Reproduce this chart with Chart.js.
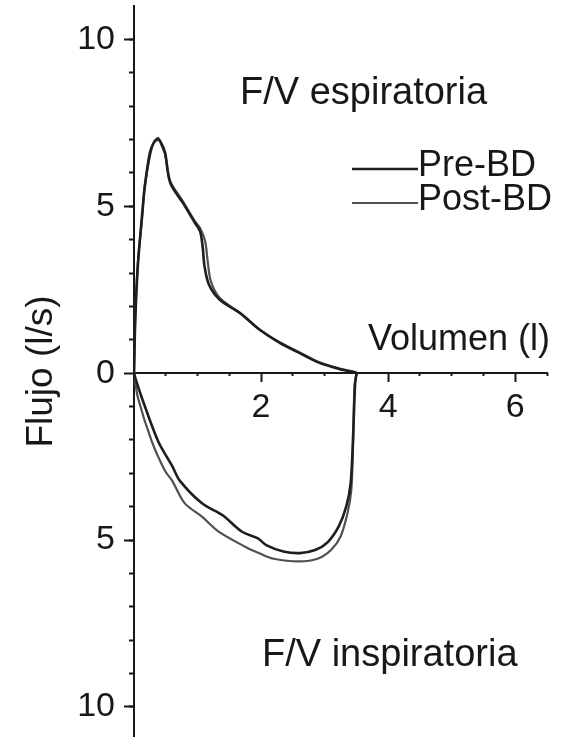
<!DOCTYPE html>
<html>
<head>
<meta charset="utf-8">
<script src="https://cdn.jsdelivr.net/npm/chart.js@4/dist/chart.umd.min.js"></script>
<style>
html,body{margin:0;padding:0;background:#fff;}
#wrap{width:570px;height:737px;position:relative;}
</style>
</head>
<body>
<div id="wrap"><canvas id="c"></canvas></div>
<script>
// ---- data ----
const seriesNames = ['Pre-BD', 'Post-BD'];

// Pre-BD loop: expiration (0 -> FVC) then inspiration (FVC -> 0), flow negative
const preVolume = [0, 0.02, 0.06, 0.13, 0.17, 0.25, 0.31, 0.38, 0.44, 0.49, 0.57, 0.77, 0.96, 1.04, 1.08, 1.11, 1.18, 1.35, 1.67, 1.98, 2.30, 2.61, 2.93, 3.24, 3.48, 3.50,
                   3.48, 3.45, 3.41, 3.34, 3.22, 3.05, 2.85, 2.61, 2.35, 2.08, 1.95, 1.70, 1.39, 1.07, 0.72, 0.60, 0.38, 0.12, 0.03, 0];
const preFlow   = [0, 1.6, 3.2, 4.8, 5.6, 6.6, 6.9, 7.0, 6.85, 6.6, 5.7, 5.1, 4.5, 4.25, 3.8, 3.2, 2.65, 2.2, 1.8, 1.3, 0.9, 0.6, 0.3, 0.12, 0.02, 0,
                   -0.3, -1.8, -3.3, -4.0, -4.6, -5.06, -5.3, -5.39, -5.34, -5.15, -4.95, -4.75, -4.25, -3.9, -3.22, -2.78, -2.04, -0.72, -0.2, 0];

// Post-BD loop
const postVolume = [0, 0.02, 0.06, 0.13, 0.17, 0.25, 0.31, 0.38, 0.44, 0.49, 0.57, 0.77, 0.96, 1.04, 1.12, 1.16, 1.21, 1.35, 1.67, 1.98, 2.30, 2.61, 2.93, 3.24, 3.48, 3.50,
                    3.47, 3.45, 3.42, 3.36, 3.25, 3.10, 2.90, 2.60, 2.20, 2.00, 1.75, 1.32, 1.07, 0.80, 0.60, 0.49, 0.28, 0.06, 0];
const postFlow   = [0, 1.7, 3.3, 4.7, 5.6, 6.5, 6.9, 7.05, 6.8, 6.55, 5.75, 5.15, 4.55, 4.35, 3.95, 3.35, 2.75, 2.25, 1.8, 1.3, 0.92, 0.62, 0.32, 0.14, 0.03, 0,
                    -0.4, -2.0, -3.5, -4.2, -4.9, -5.3, -5.55, -5.64, -5.56, -5.42, -5.2, -4.73, -4.3, -3.9, -3.22, -2.93, -2.04, -0.72, 0];

// axis ticks
const yMajorTicks = [-10, -5, 0, 5, 10];
const yMinorTicks = [-10, -9, -8, -7, -6, -5, -4, -3, -2, -1, 1, 2, 3, 4, 5, 6, 7, 8, 9, 10];
const xMajorTicks = [2, 4, 6];
const xMinorTicks = [0.5, 1, 1.5, 2.5, 3, 3.5, 4.5, 5, 5.5, 6.5];

// texts
const yAxisTitle = 'Flujo (l/s)';
const xAxisTitle = 'Volumen (l)';
const expLabel = 'F/V espiratoria';
const inspLabel = 'F/V inspiratoria';

const seriesColors = ['#1e1e1e', '#505050'];
const seriesWidths = [2.6, 2.2];

// ---- chart ----
const FONT = '"Liberation Sans", Arial, Helvetica, sans-serif';
const INK = '#181818';

function pts(xs, ys) { return xs.map((v, i) => ({x: v, y: ys[i]})); }
function setTicks(list) { return scale => { scale.ticks = list.map(v => ({value: v})); }; }
function noPad(s) { s.paddingTop = 0; s.paddingBottom = 0; s.paddingLeft = 0; s.paddingRight = 0; }

const annotations = {
  id: 'annotations',
  afterDraw(chart) {
    const ctx = chart.ctx;
    const a = chart.chartArea;
    ctx.save();
    ctx.fillStyle = INK;
    ctx.textBaseline = 'alphabetic';
    ctx.font = '38px ' + FONT;
    ctx.textAlign = 'left';
    ctx.fillText(expLabel, a.left + 106, 104);
    ctx.fillText(inspLabel, a.left + 128, 666);
    ctx.font = '36px ' + FONT;
    ctx.textAlign = 'right';
    ctx.fillText(xAxisTitle, a.right + 3, 350);
    // legend
    chart.data.datasets.forEach((ds, i) => {
      const ly = 169 + i * 34;
      ctx.strokeStyle = ds.borderColor;
      ctx.lineWidth = ds.borderWidth;
      ctx.beginPath();
      ctx.moveTo(352, ly);
      ctx.lineTo(418, ly);
      ctx.stroke();
      ctx.textAlign = 'left';
      ctx.font = '36px ' + FONT;
      ctx.fillText(ds.label, 418, ly + 7);
    });
    ctx.restore();
  }
};

const common = {min: 0, max: 6.5};
const yRange = {min: -10.9, max: 11};

new Chart(document.getElementById('c'), {
  type: 'line',
  data: {
    datasets: [
      {label: seriesNames[0], data: pts(preVolume, preFlow), borderColor: seriesColors[0], borderWidth: seriesWidths[0], pointRadius: 0, tension: 0.3, fill: false},
      {label: seriesNames[1], data: pts(postVolume, postFlow), borderColor: seriesColors[1], borderWidth: seriesWidths[1], pointRadius: 0, tension: 0.3, fill: false}
    ]
  },
  options: {
    responsive: true,
    maintainAspectRatio: false,
    animation: false,
    layout: {padding: {top: 6, right: 23, bottom: 0, left: 0}},
    plugins: {legend: {display: false}, tooltip: {enabled: false}},
    scales: {
      x: {
        type: 'linear', ...common, position: {y: 0},
        afterBuildTicks: setTicks(xMajorTicks),
        afterFit: s => { s.height = 0; noPad(s); },
        ticks: {font: {size: 34, family: FONT}, color: INK, padding: 6, maxRotation: 0},
        grid: {drawOnChartArea: false, tickLength: 8, tickWidth: 2, tickColor: INK},
        border: {color: INK, width: 2}
      },
      x2: {
        type: 'linear', ...common, position: {y: 0},
        afterBuildTicks: setTicks(xMinorTicks),
        afterFit: s => { s.height = 0; noPad(s); },
        ticks: {display: false},
        grid: {drawOnChartArea: false, tickLength: 3, tickWidth: 2, tickColor: INK},
        border: {display: false}
      },
      y: {
        type: 'linear', ...yRange, position: 'left',
        afterBuildTicks: setTicks(yMajorTicks),
        afterFit: s => { s.width = 134; noPad(s); },
        ticks: {font: {size: 34, family: FONT}, color: INK, padding: 9, callback: v => String(Math.abs(v))},
        grid: {drawOnChartArea: false, tickLength: 10, tickWidth: 2, tickColor: INK},
        border: {color: INK, width: 2},
        title: {display: true, text: yAxisTitle, font: {size: 37, family: FONT}, color: INK, padding: {top: 20, bottom: 0}}
      },
      y2: {
        type: 'linear', ...yRange, position: {x: 0},
        afterBuildTicks: setTicks(yMinorTicks),
        afterFit: s => { s.width = 0; noPad(s); },
        ticks: {display: false},
        grid: {drawOnChartArea: false, tickLength: 5, tickWidth: 2, tickColor: INK},
        border: {display: false}
      }
    }
  },
  plugins: [annotations]
});
</script>
</body>
</html>
